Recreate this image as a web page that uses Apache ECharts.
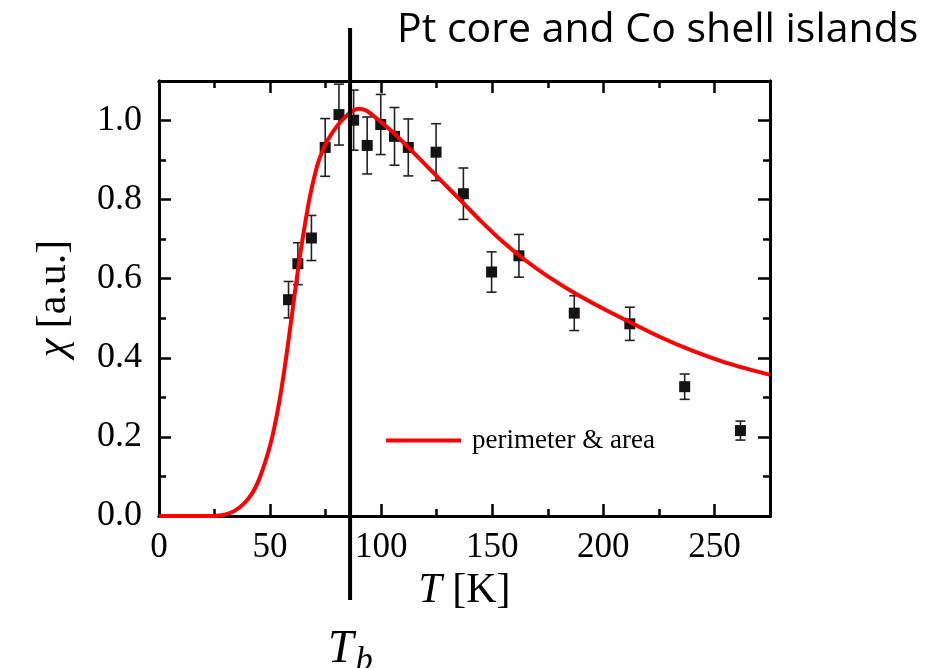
<!DOCTYPE html>
<html>
<head>
<meta charset="utf-8">
<script src="https://cdn.jsdelivr.net/npm/echarts@6/dist/echarts.min.js"></script>
<style>
  html, body { margin: 0; padding: 0; background: #fff; }
  #chart { width: 930px; height: 668px; }
</style>
</head>
<body>
<div id="chart"></div>
<script>
// Measured susceptibility (temperature in K, chi in a.u., error half-widths)
const measT   = [58.3, 62.5, 68.6, 74.8, 81.0, 87.6, 93.7, 99.8, 106.0, 112.2, 124.7, 137.0, 149.7, 162.0, 186.9, 211.9, 236.6, 261.7];
const measChi = [0.547, 0.638, 0.703, 0.932, 1.015, 1.001, 0.937, 0.990, 0.960, 0.932, 0.920, 0.815, 0.617, 0.658, 0.513, 0.486, 0.327, 0.216];
const measErr = [0.046, 0.053, 0.057, 0.073, 0.077, 0.076, 0.072, 0.076, 0.073, 0.072, 0.072, 0.065, 0.051, 0.054, 0.044, 0.042, 0.032, 0.024];

// Model curve ("perimeter & area")
const fitT   = [0, 11, 22, 26, 30, 34, 38, 42, 45, 48, 50, 52, 54, 56, 58, 60, 62, 64, 66, 68, 70, 72, 74.5, 77.5, 80.7, 84, 87, 89.7, 92.5, 95, 98, 105, 111.5, 120, 127.5, 135.4, 145, 155, 165, 175, 187, 200, 212, 225, 240, 255, 275];
const fitChi = [0, 0, 0, 0.0005, 0.004, 0.013, 0.030, 0.058, 0.092, 0.140, 0.178, 0.226, 0.284, 0.354, 0.432, 0.516, 0.600, 0.678, 0.748, 0.810, 0.860, 0.900, 0.935, 0.965, 0.990, 1.010, 1.024, 1.030, 1.027, 1.019, 1.005, 0.972, 0.936, 0.888, 0.845, 0.800, 0.745, 0.692, 0.646, 0.606, 0.564, 0.524, 0.490, 0.454, 0.418, 0.388, 0.357];

// Blocking temperature marker
const blockingT = 86;

// Axis settings
const xMin = 0, xMax = 275, xMajor = 50, xMinor = 25;
const yMin = 0, yMax = 1.1, yMajor = 0.2, yMinor = 0.1;

const serif = 'Liberation Serif';
const chart = echarts.init(document.getElementById('chart'));

function frameLine() {
  return { show: true, onZero: false, lineStyle: { color: '#000', width: 3 } };
}

function xAxisDef(pos, interval, tickLen, withLabels) {
  const ax = {
    type: 'value', position: pos, min: xMin, max: xMax, interval: interval,
    axisLine: frameLine(),
    axisTick: { show: true, inside: true, length: tickLen, lineStyle: { color: '#000', width: 2.5 } },
    axisLabel: { show: false },
    splitLine: { show: false }
  };
  if (withLabels) {
    ax.axisLabel = { show: true, margin: 14, showMaxLabel: false, color: '#000', fontFamily: serif, fontSize: 35 };
    ax.name = '{i|T} [K]';
    ax.nameLocation = 'middle';
    ax.nameGap = 52;
    ax.nameTextStyle = {
      color: '#000', fontFamily: serif, fontSize: 42,
      rich: { i: { fontFamily: serif, fontStyle: 'italic', fontSize: 42, color: '#000' } }
    };
  }
  return ax;
}

function yAxisDef(pos, interval, tickLen, withLabels) {
  const ax = {
    type: 'value', position: pos, min: yMin, max: yMax, interval: interval,
    axisLine: frameLine(),
    axisTick: { show: true, inside: true, length: tickLen, lineStyle: { color: '#000', width: 2.5 } },
    axisLabel: { show: false },
    splitLine: { show: false }
  };
  if (withLabels) {
    ax.axisLabel = {
      show: true, margin: 17, showMaxLabel: false, color: '#000', fontFamily: serif, fontSize: 36,
      formatter: v => v.toFixed(1)
    };
    ax.name = '{i|χ} [a.u.]';
    ax.nameLocation = 'middle';
    ax.nameGap = 84;
    ax.nameRotate = 90;
    ax.nameTextStyle = {
      color: '#000', fontFamily: serif, fontSize: 42,
      rich: { i: { fontFamily: serif, fontStyle: 'italic', fontSize: 42, color: '#000' } }
    };
  }
  return ax;
}

const errData = measT.map((t, i) => [t, measChi[i] - measErr[i], measChi[i] + measErr[i]]);
const ptData = measT.map((t, i) => [t, measChi[i]]);
const fitData = fitT.map((t, i) => [t, fitChi[i]]);

chart.setOption({
  animation: false,
  backgroundColor: '#fff',
  title: {
    text: 'Pt core and Co shell islands',
    left: 392, top: 5,
    textStyle: { fontFamily: 'Open Sans', fontSize: 41, fontWeight: 'normal', color: '#000' }
  },
  grid: { left: 159, top: 81, width: 611, height: 435, containLabel: false },
  legend: {
    data: [{ name: 'perimeter & area', icon: 'rect' }],
    left: 386, top: 427, padding: 0,
    itemWidth: 75, itemHeight: 4,
    textStyle: { fontFamily: serif, fontSize: 27, color: '#000', padding: [0, 0, 0, 6] }
  },
  xAxis: [
    xAxisDef('bottom', xMajor, 12, true),
    xAxisDef('bottom', xMinor, 7, false),
    xAxisDef('top', xMajor, 12, false),
    xAxisDef('top', xMinor, 7, false)
  ],
  yAxis: [
    yAxisDef('left', yMajor, 12, true),
    yAxisDef('left', yMinor, 7, false),
    yAxisDef('right', yMajor, 12, false),
    yAxisDef('right', yMinor, 7, false)
  ],
  series: [
    {
      type: 'custom',
      name: 'error',
      xAxisIndex: 0, yAxisIndex: 0,
      z: 2,
      encode: { x: 0, y: [1, 2] },
      data: errData,
      renderItem: function (params, api) {
        const x = api.value(0);
        const lo = api.coord([x, api.value(1)]);
        const hi = api.coord([x, api.value(2)]);
        const hw = 5;
        const st = { stroke: '#222', lineWidth: 1.6 };
        return {
          type: 'group',
          children: [
            { type: 'line', shape: { x1: lo[0], y1: lo[1], x2: hi[0], y2: hi[1] }, style: st },
            { type: 'line', shape: { x1: lo[0] - hw, y1: lo[1], x2: lo[0] + hw, y2: lo[1] }, style: st },
            { type: 'line', shape: { x1: hi[0] - hw, y1: hi[1], x2: hi[0] + hw, y2: hi[1] }, style: st }
          ]
        };
      }
    },
    {
      type: 'scatter',
      name: 'data',
      xAxisIndex: 0, yAxisIndex: 0,
      z: 3,
      symbol: 'rect', symbolSize: 11,
      itemStyle: { color: '#141414', opacity: 1 },
      data: ptData
    },
    {
      type: 'line',
      name: 'perimeter & area',
      xAxisIndex: 0, yAxisIndex: 0,
      z: 4,
      symbol: 'none', showSymbol: false,
      smooth: 0.3,
      lineStyle: { color: '#ff0000', width: 4 },
      itemStyle: { color: '#ff0000' },
      data: fitData
    }
  ]
});

// Vertical marker at the blocking temperature, extending past the frame
const bx = chart.convertToPixel({ xAxisIndex: 0 }, blockingT);
chart.setOption({
  graphic: [
    {
      type: 'line', z: 100,
      shape: { x1: bx, y1: 28, x2: bx, y2: 600 },
      style: { stroke: '#000', lineWidth: 4 }
    },
    {
      type: 'text', z: 100,
      x: bx - 22, y: 622,
      style: {
        text: '{t|T}{s|b}',
        rich: {
          t: { fontFamily: serif, fontStyle: 'italic', fontSize: 46, fill: '#000' },
          s: { fontFamily: serif, fontStyle: 'italic', fontSize: 34, fill: '#000', padding: [22, 0, 0, 2] }
        }
      }
    }
  ]
});
</script>
</body>
</html>
